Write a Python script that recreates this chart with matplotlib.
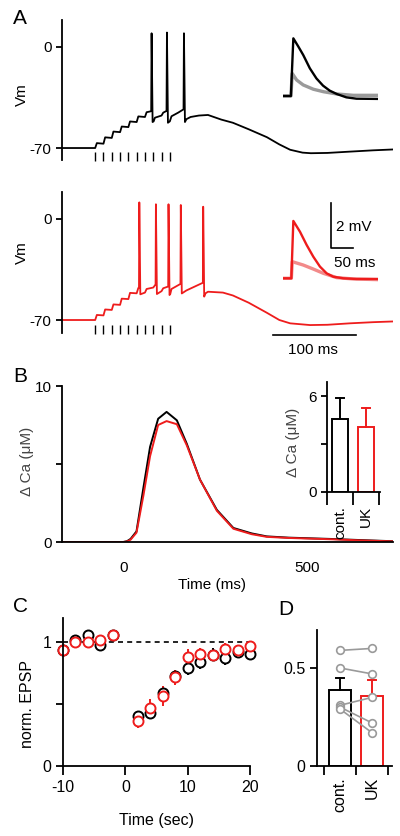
import matplotlib
matplotlib.use("Agg")
import matplotlib.pyplot as plt

plt.rcParams['font.family'] = ['Liberation Sans', 'DejaVu Sans']
plt.rcParams['axes.unicode_minus'] = False
plt.rcParams['axes.linewidth'] = 1.3
plt.rcParams['xtick.major.width'] = 1.3
plt.rcParams['ytick.major.width'] = 1.3
plt.rcParams['font.size'] = 11

RED = '#ee1c1c'
LIGHT_RED = '#f28a8a'
GREY = '#9a9a9a'

# ---- panel A: membrane potential (ms, mV) ----
stim_t = [40, 50, 60, 70, 80, 90, 100, 110, 120, 130]

cont_t = [0, 40, 42, 50, 52, 60, 62, 70, 72, 80, 82, 90, 92, 100, 102, 107.5,
          108, 108.6, 109.2, 110.5, 112, 120, 122, 126, 126.5, 127.1, 127.7, 130, 132,
          140, 146.5, 147, 147.6, 148.2, 150, 155, 165, 176, 192, 206, 225, 247, 262, 275,
          290, 300, 320, 347, 375, 399]
cont_v = [-70, -70, -66.6, -67, -62.6, -63, -58.6, -59, -55.1, -55.5, -51.6, -52, -48.1, -48.5,
          -45.2, -44.5, 9.5, -20, -52, -51.5, -49, -47.5, -45.5, -44.3, 10, -20, -52.5, -51.5,
          -48, -45.5, -43.2, 9.5, -20, -52, -50, -48.5, -47.5, -47.1, -50.3, -52.5, -57, -62.5,
          -67.5, -71.2, -73.2, -73.6, -73.4, -72.5, -71.6, -71]

uk_t = [0, 40, 42, 50, 52, 60, 62, 70, 72, 80, 82, 90, 92, 92.8, 93.2, 93.8, 94.4,
        100, 102, 110, 112, 112.8, 113.2, 113.8, 114.4, 120, 122, 128, 128.4, 129, 129.6,
        130.5, 132, 142.8, 143.2, 143.8, 144.4, 150, 169.8, 170.2, 170.8, 171.4, 173, 176, 194,
        206, 225, 247, 262, 275, 299, 320, 347, 375, 399]
uk_v = [-70, -70, -66.5, -66.8, -62.7, -63, -59.2, -59.5, -55.2, -55.5, -51.2, -51.5, -47.8, -47.6,
        11.5, -20, -52.2, -51, -48.5, -47.5, -46, -45.7, 10.2, -20, -52, -50, -48, -46.8, 10.2,
        -20, -52.7, -52, -48.5, -45, 9.7, -20, -51.6, -49.5, -44.2, 8.5, -20, -53.8, -51.5,
        -50.4, -51, -53, -58, -65, -70, -72.3, -73.5, -73.3, -72.3, -71.5, -71]

# single EPSPs (inset), ms and mV from baseline
epsp_cont_t = [0, 18, 23.5, 35, 46, 61, 76, 91, 106, 122, 144, 167, 216]
epsp_cont_v = [0, 0, 2.56, 2.19, 1.82, 1.23, 0.78, 0.46, 0.24, 0.09, -0.06, -0.12, -0.13]
epsp_cont_blk_t = [0, 18, 21, 31, 46, 69, 92, 122, 160, 217]
epsp_cont_blk_v = [0, 0, 1.0, 0.71, 0.49, 0.30, 0.19, 0.09, 0.03, 0.03]
epsp_uk_t = [0, 19, 23.5, 38.6, 53.8, 68.9, 84, 99.3, 114.4, 137, 167, 216]
epsp_uk_v = [0, 0, 2.55, 2.07, 1.48, 0.96, 0.52, 0.22, 0.07, 0, -0.03, -0.03]
epsp_uk_blk_t = [0, 19, 21, 46, 69, 92, 122, 160, 217]
epsp_uk_blk_v = [0, 0, 0.74, 0.59, 0.41, 0.22, 0.03, -0.03, -0.06]

# ---- panel B: calcium transient ----
ca_t = [-167, 0, 10, 20, 36, 55, 73, 95, 118, 146, 173, 209, 255, 300, 350, 391, 450, 573, 650, 735]
ca_cont = [0, 0, 0.05, 0.2, 0.68, 3.5, 6.1, 7.9, 8.34, 7.8, 6.3, 4.0, 2.06, 0.9, 0.55, 0.36, 0.28, 0.19, 0.12, 0.05]
ca_uk = [0, 0, 0.03, 0.15, 0.6, 3.0, 5.5, 7.5, 7.75, 7.55, 6.2, 4.0, 2.0, 0.85, 0.5, 0.33, 0.26, 0.17, 0.1, 0.04]
groups = ['cont.', 'UK']
ca_mean = [4.56, 4.06]
ca_sem = [1.34, 1.19]

# ---- panel C: EPSP recovery ----
t_pre = [-10, -8, -6, -4, -2]
t_post = [2, 4, 6, 8, 10, 12, 14, 16, 18, 20]
cont_pre = [0.93, 1.01, 1.05, 0.97, 1.05]
cont_pre_err = [0.02, 0.02, 0.03, 0.03, 0.02]
cont_post = [0.40, 0.43, 0.59, 0.72, 0.79, 0.84, 0.895, 0.865, 0.92, 0.90]
cont_post_err = [0.04, 0.04, 0.05, 0.05, 0.06, 0.06, 0.05, 0.05, 0.03, 0.03]
uk_pre = [0.93, 1.0, 0.995, 1.016, 1.056]
uk_pre_err = [0.02, 0.02, 0.02, 0.03, 0.02]
uk_post = [0.363, 0.47, 0.565, 0.715, 0.88, 0.90, 0.89, 0.94, 0.93, 0.968]
uk_post_err = [0.06, 0.07, 0.08, 0.06, 0.06, 0.05, 0.04, 0.05, 0.04, 0.04]

# ---- panel D ----
d_mean = [0.39, 0.357]
d_sem = [0.06, 0.083]
d_cont_cells = [0.59, 0.50, 0.31, 0.30, 0.29]
d_uk_cells = [0.60, 0.47, 0.35, 0.22, 0.17]

W, H = 400, 836
fig = plt.figure(figsize=(W / 100, H / 100), dpi=100)


def px_axes(x0, y0, x1, y1):
    return fig.add_axes([x0 / W, 1 - y1 / H, (x1 - x0) / W, (y1 - y0) / H])


def clean(ax, bottom=True):
    ax.spines['top'].set_visible(False)
    ax.spines['right'].set_visible(False)
    if not bottom:
        ax.spines['bottom'].set_visible(False)
    ax.tick_params(direction='out', length=4, labelsize=11)


# A traces
for (y0, y1, ylim, t, v, col) in [(20, 160, (-78.3, 18.7), cont_t, cont_v, 'k'),
                                  (192, 333, (-79, 18.7), uk_t, uk_v, RED)]:
    ax = px_axes(62, y0, 393, y1)
    ax.plot(t, v, color=col, lw=1.3)
    ax.set_xlim(0, 399)
    ax.set_ylim(*ylim)
    clean(ax, bottom=False)
    ax.set_xticks([])
    ax.set_yticks([-70, 0])
    ax.set_yticklabels(['-70', '0'])
    ax.vlines(stim_t, ylim[0] + 5.2, ylim[0] - 0.6, color='k', lw=1, clip_on=False)
    ax.set_ylabel('Vm', fontsize=11)
    ax.yaxis.set_label_coords(-0.1, 0.47 if col == 'k' else 0.57)
    if col == RED:
        ax.plot([254, 354], [-80.4, -80.4], color='k', lw=1.2, clip_on=False)
        ax.text(303, -91, '100 ms', ha='center', va='center', fontsize=11)

ins1 = px_axes(283, 30, 378, 105)
ins1.plot(epsp_cont_blk_t, epsp_cont_blk_v, color=GREY, lw=2.4)
ins1.plot(epsp_cont_t, epsp_cont_v, color='k', lw=1.7)
ins1.set_xlim(0, 216)
ins1.set_ylim(-0.4, 2.93)
ins1.axis('off')

ins2 = px_axes(283, 200, 378, 290)
ins2.plot(epsp_uk_blk_t, epsp_uk_blk_v, color=LIGHT_RED, lw=2.4)
ins2.plot(epsp_uk_t, epsp_uk_v, color=RED, lw=1.7)
ins2.set_xlim(0, 216)
ins2.set_ylim(-0.52, 3.48)
ins2.axis('off')
ins2.plot([109, 109, 159], [3.34, 1.34, 1.34], color='k', lw=1.2, clip_on=False)
ins2.text(121, 2.3, '2 mV', ha='left', va='center', fontsize=11)
ins2.text(164, 0.68, '50 ms', ha='center', va='center', fontsize=11)

# B
b = px_axes(62, 386, 393, 542)
b.plot(ca_t, ca_cont, color='k', lw=1.4)
b.plot(ca_t, ca_uk, color=RED, lw=1.4)
b.set_xlim(-167, 735)
b.set_ylim(0, 10)
clean(b)
b.set_yticks([0, 5, 10])
b.set_yticklabels(['0', '', '10'])
b.set_xticks([0, 500])
b.tick_params(axis='x', length=0, pad=14)
b.set_xlabel('Time (ms)', fontsize=11)
b.xaxis.set_label_coords(0.453, -0.23)
b.set_ylabel('Δ Ca (μM)', fontsize=11, color='#444444')
b.yaxis.set_label_coords(-0.085, 0.52)

bi = px_axes(327, 382, 380, 492)
bi.bar([0.5, 1.5], ca_mean, width=0.64, color='white', edgecolor=['k', RED], lw=1.4)
for xi, m, e, c in zip([0.5, 1.5], ca_mean, ca_sem, ['k', RED]):
    bi.plot([xi, xi], [m, m + e], color=c, lw=1.4)
    bi.plot([xi - 0.15, xi + 0.15], [m + e, m + e], color=c, lw=1.4)
bi.set_xlim(0, 2.04)
bi.set_ylim(0, 6.875)
clean(bi)
bi.set_yticks([0, 3, 6])
bi.set_yticklabels(['0', '', '6'])
bi.set_xticks([0, 1, 2])
bi.set_xticklabels([])
bi.tick_params(axis='x', length=9)
bi.set_xticks([0.5, 1.5], minor=True)
bi.set_xticklabels(groups, minor=True, rotation=90, fontsize=11)
bi.tick_params(axis='x', which='minor', length=0, pad=10)
bi.set_ylabel('Δ Ca (μM)', fontsize=11, color='#444444')
bi.yaxis.set_label_coords(-0.5, 0.45)

# C
c = px_axes(63, 618, 250, 766)
c.plot([-10, 20], [1, 1], color='k', lw=1.2, ls=(0, (3, 2.5)))
for ts, ys, es, col in [(t_pre, cont_pre, cont_pre_err, 'k'), (t_post, cont_post, cont_post_err, 'k'),
                        (t_pre, uk_pre, uk_pre_err, RED), (t_post, uk_post, uk_post_err, RED)]:
    c.errorbar(ts, ys, yerr=es, fmt='o', ms=7.2, mfc='white', mec=col, mew=1.4,
               ecolor=col, elinewidth=1.4, capsize=0, clip_on=False)
c.set_xlim(-10, 20)
c.set_ylim(0, 1.19)
clean(c)
c.set_yticks([0, 0.5, 1])
c.set_yticklabels(['0', '', '1'])
c.set_xticks([-10, 0, 10, 20])
c.set_xticklabels(['-10', '0', '10', '20'])
c.tick_params(axis='x', length=6.5, labelsize=11.5)
c.tick_params(axis='y', length=5, labelsize=11.5)
c.set_xlabel('Time (sec)', fontsize=11.5)
c.xaxis.set_label_coords(0.5, -0.32)
c.set_ylabel('norm. EPSP', fontsize=11.5)
c.yaxis.set_label_coords(-0.15, 0.42)

# D
d = px_axes(317, 630, 392, 766)
d.bar([0.5, 1.5], d_mean, width=0.68, color='white', edgecolor=['k', RED], lw=1.4, zorder=1)
for xi, m, e, col in zip([0.5, 1.5], d_mean, d_sem, ['k', RED]):
    d.plot([xi, xi], [m, m + e], color=col, lw=1.4, zorder=1)
    d.plot([xi - 0.13, xi + 0.13], [m + e, m + e], color=col, lw=1.4, zorder=1)
for y0, y1 in zip(d_cont_cells, d_uk_cells):
    d.plot([0.5, 1.5], [y0, y1], color=GREY, lw=1.2, marker='o', ms=5.5, mfc='white',
           mec=GREY, mew=1.2, zorder=3)
d.set_xlim(-0.23, 2.13)
d.set_ylim(0, 0.694)
clean(d)
d.set_yticks([0, 0.5])
d.set_yticklabels(['0', '0.5'])
d.set_xticks([0, 1, 2])
d.set_xticklabels([])
d.tick_params(axis='x', length=6.5)
d.tick_params(axis='y', length=5, labelsize=11.5)
d.set_xticks([0.5, 1.5], minor=True)
d.set_xticklabels(groups, minor=True, rotation=90, fontsize=11.5)
d.tick_params(axis='x', which='minor', length=0, pad=8)

for letter, x, y in [('A', 13, 9), ('B', 13, 367), ('C', 13, 597), ('D', 278, 600)]:
    fig.text(x / W, 1 - y / H, letter, fontsize=15, ha='left', va='top')

fig.savefig('out.png', dpi=100)
